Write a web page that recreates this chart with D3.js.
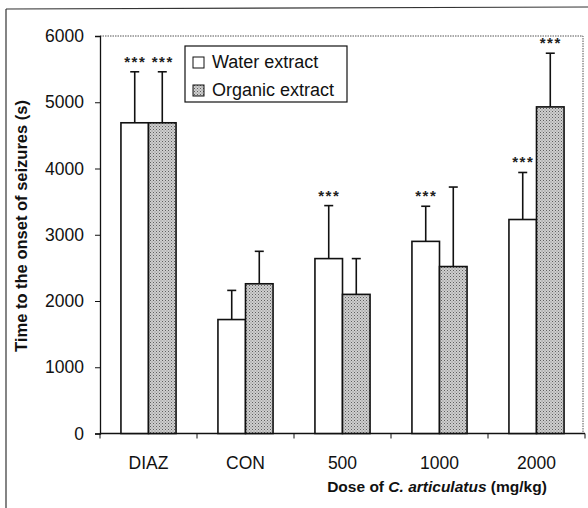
<!DOCTYPE html>
<html>
<head>
<meta charset="utf-8">
<script src="https://cdn.jsdelivr.net/npm/d3@7"></script>
<style>
  body { margin: 0; background: #fff; }
  svg { display: block; font-family: "Liberation Sans", Arial, sans-serif; }
</style>
</head>
<body>
<div id="chart"></div>
<script>
// data
var categories = ["DIAZ", "CON", "500", "1000", "2000"];
var series = ["Water extract", "Organic extract"];
var water = [4690, 1720, 2640, 2900, 3230];
var waterErr = [770, 440, 800, 530, 710];
var organic = [4690, 2260, 2100, 2520, 4930];
var organicErr = [770, 490, 540, 1200, 810];
var waterSig = ["***", "", "***", "***", "***"];
var organicSig = ["***", "", "", "", "***"];
var yTicks = [0, 1000, 2000, 3000, 4000, 5000, 6000];

var width = 588, height = 508;
var margin = {top: 36, right: 3, bottom: 74.5, left: 100};

var svg = d3.select("#chart").append("svg")
  .attr("width", width)
  .attr("height", height);

// stippled grey fill for organic bars
var defs = svg.append("defs");
var pat = defs.append("pattern")
  .attr("id", "stipple")
  .attr("width", 3).attr("height", 3)
  .attr("patternUnits", "userSpaceOnUse");
pat.append("rect").attr("width", 3).attr("height", 3).attr("fill", "#cfcfcf");
pat.append("rect").attr("x", 0).attr("y", 0).attr("width", 1).attr("height", 1).attr("fill", "#5f5f5f");
pat.append("rect").attr("x", 1.5).attr("y", 1.5).attr("width", 1).attr("height", 1).attr("fill", "#7f7f7f");

// outer frame (scan border)
svg.append("line").attr("x1", 6).attr("x2", width).attr("y1", 9).attr("y2", 7)
  .attr("stroke", "#333").attr("stroke-width", 1.2);
svg.append("line").attr("x1", 6).attr("x2", 6).attr("y1", 9).attr("y2", height)
  .attr("stroke", "#333").attr("stroke-width", 1.2);

var x0 = d3.scaleBand()
  .domain(categories)
  .range([margin.left, width - margin.right])
  .padding(0);

var x1 = d3.scaleBand()
  .domain(series)
  .range([0, x0.bandwidth()])
  .paddingInner(0)
  .paddingOuter(0.76);

var y = d3.scaleLinear()
  .domain([0, 6000])
  .range([height - margin.bottom, margin.top]);

// dotted plot frame (top and right)
var plotRight = width - margin.right - 2;
svg.append("path")
  .attr("d", "M" + margin.left + "," + y(6000) + "H" + plotRight + "V" + y(0))
  .attr("fill", "none")
  .attr("stroke", "#555")
  .attr("stroke-width", 1)
  .attr("stroke-dasharray", "1.5,1");

// y axis
var yAxis = d3.axisLeft(y).tickValues(yTicks).tickFormat(d3.format("d")).tickSize(5).tickPadding(11);
var gy = svg.append("g")
  .attr("transform", "translate(" + margin.left + ",0)")
  .call(yAxis);
gy.select(".domain").attr("stroke", "#111").attr("stroke-width", 1.3);
gy.selectAll(".tick line").attr("stroke", "#111");
gy.selectAll(".tick text")
  .style("font-size", "17.5px")
  .attr("fill", "#111");

// x axis: ticks on band boundaries
var gx = svg.append("g")
  .attr("transform", "translate(0," + y(0) + ")");
gx.append("line")
  .attr("x1", margin.left).attr("x2", width - margin.right)
  .attr("stroke", "#111").attr("stroke-width", 1.3);
var bounds = categories.map(function(c) { return x0(c); }).concat([x0(categories[4]) + x0.bandwidth()]);
gx.selectAll(".xt").data(bounds).enter().append("line")
  .attr("x1", function(d) { return d; })
  .attr("x2", function(d) { return d; })
  .attr("y1", 0).attr("y2", 5)
  .attr("stroke", "#111");
gx.selectAll(".xl").data(categories).enter().append("text")
  .attr("x", function(d) { return x0(d) + x0.bandwidth() / 2; })
  .attr("y", 35)
  .attr("text-anchor", "middle")
  .style("font-size", "17.5px")
  .attr("fill", "#111")
  .text(function(d) { return d; });

// bars
var rows = categories.map(function(c, i) {
  return [
    {cat: c, s: series[0], v: water[i], e: waterErr[i], sig: waterSig[i], fill: "#fff"},
    {cat: c, s: series[1], v: organic[i], e: organicErr[i], sig: organicSig[i], fill: "url(#stipple)"}
  ];
});
var flat = [].concat.apply([], rows);

var bars = svg.append("g");
bars.selectAll("line.err").data(flat).enter().append("line")
  .attr("x1", function(d) { return x0(d.cat) + x1(d.s) + x1.bandwidth() / 2; })
  .attr("x2", function(d) { return x0(d.cat) + x1(d.s) + x1.bandwidth() / 2; })
  .attr("y1", function(d) { return y(d.v); })
  .attr("y2", function(d) { return y(d.v + d.e); })
  .attr("stroke", "#111").attr("stroke-width", 1.6);
bars.selectAll("line.cap").data(flat).enter().append("line")
  .attr("x1", function(d) { return x0(d.cat) + x1(d.s) + x1.bandwidth() / 2 - 4.5; })
  .attr("x2", function(d) { return x0(d.cat) + x1(d.s) + x1.bandwidth() / 2 + 4.5; })
  .attr("y1", function(d) { return y(d.v + d.e); })
  .attr("y2", function(d) { return y(d.v + d.e); })
  .attr("stroke", "#111").attr("stroke-width", 1.6);
bars.selectAll("rect").data(flat).enter().append("rect")
  .attr("x", function(d) { return x0(d.cat) + x1(d.s); })
  .attr("y", function(d) { return y(d.v); })
  .attr("width", x1.bandwidth())
  .attr("height", function(d) { return y(0) - y(d.v); })
  .attr("fill", function(d) { return d.fill; })
  .attr("stroke", "#111").attr("stroke-width", 1.6);
bars.selectAll("text.sig").data(flat.filter(function(d) { return d.sig; })).enter().append("text")
  .attr("x", function(d) { return x0(d.cat) + x1(d.s) + x1.bandwidth() / 2 + 0.5; })
  .attr("y", function(d) { return y(d.v + d.e) - 5; })
  .attr("text-anchor", "middle")
  .style("font-size", "15px")
  .style("font-weight", "bold")
  .style("letter-spacing", "1.5px")
  .attr("fill", "#222")
  .text(function(d) { return d.sig; });

// legend
var lg = svg.append("g").attr("transform", "translate(185,46)");
lg.append("rect").attr("width", 162).attr("height", 56)
  .attr("fill", "#fff").attr("stroke", "#111").attr("stroke-width", 1.2);
series.forEach(function(s, i) {
  lg.append("rect")
    .attr("x", 8).attr("y", 11 + i * 28)
    .attr("width", 11).attr("height", 11)
    .attr("fill", i === 0 ? "#fff" : "url(#stipple)")
    .attr("stroke", "#111").attr("stroke-width", 1);
  lg.append("text")
    .attr("x", 27).attr("y", 22 + i * 28)
    .style("font-size", "18px")
    .attr("fill", "#111")
    .text(s);
});

// axis titles
svg.append("text")
  .attr("transform", "translate(27," + 226 + ") rotate(-90)")
  .attr("text-anchor", "middle")
  .style("font-size", "16.5px")
  .style("font-weight", "bold")
  .attr("fill", "#111")
  .text("Time to the onset of seizures (s)");

var xt = svg.append("text")
  .attr("x", 437).attr("y", 492)
  .attr("text-anchor", "middle")
  .style("font-size", "15.5px")
  .style("font-weight", "bold")
  .attr("fill", "#111");
xt.append("tspan").text("Dose of ");
xt.append("tspan").style("font-style", "italic").text("C. articulatus");
xt.append("tspan").text(" (mg/kg)");
</script>
</body>
</html>
